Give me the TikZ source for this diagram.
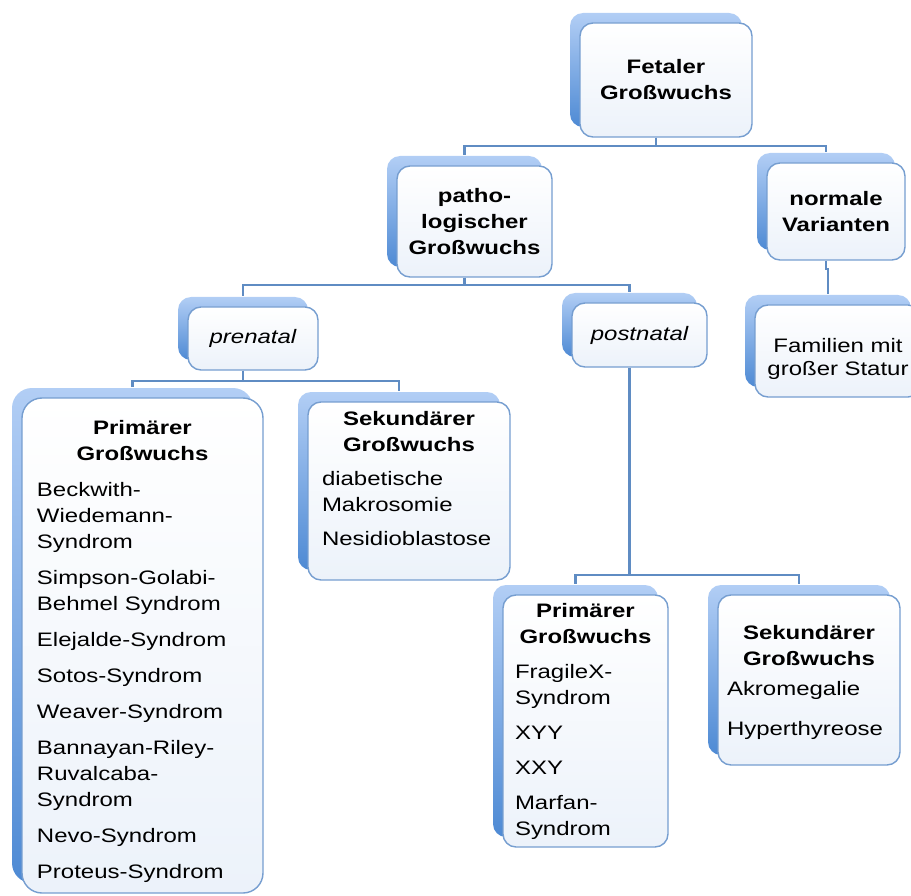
\documentclass[tikz,border=0pt]{standalone}
\usepackage{fontspec}
\setmainfont{Liberation Sans}[FakeStretch=1.23]
\usetikzlibrary{calc}
\definecolor{linkblue}{RGB}{95,140,195}
\definecolor{boxedge}{RGB}{118,158,208}
\definecolor{shadelight}{RGB}{178,206,245}
\definecolor{shadedark}{RGB}{78,138,212}
\definecolor{boxfoot}{RGB}{236,242,250}

\begin{document}
\begin{tikzpicture}[x=1pt,y=-1pt,
        font=\fontsize{19.5}{26}\selectfont,
        gbox/.style={draw=boxedge,line width=1.4pt,rounded corners=13pt,
            top color=white,bottom color=boxfoot,inner sep=0pt,
            preaction={draw=none,top color=shadelight,bottom color=shadedark,
                transform canvas={shift={(-10pt,10pt)}}}},
        headbox/.style={gbox,align=center,font=\fontsize{19.5}{26}\selectfont\bfseries},
        listbox/.style={gbox,text width=#1},
        link/.style={draw=linkblue,line width=2.2pt}]
    \useasboundingbox (0,0) rectangle (911,896);

    % upper levels
    \node[headbox,minimum width=172,minimum height=114] (fetal) at (666,80) {Fetaler\\Großwuchs};
    \node[headbox,minimum width=155,minimum height=111] (patho) at (474.5,221.5) {patho-\\logischer\\Großwuchs};
    \node[headbox,minimum width=138,minimum height=97] (normal) at (836,211.5) {normale\\Varianten};
    \node[gbox,minimum width=130,minimum height=63,font=\fontsize{19.5}{26}\selectfont\itshape] (prenat) at (253,338.5) {prenatal};
    \node[gbox,minimum width=135,minimum height=64,font=\fontsize{19.5}{26}\selectfont\itshape] (postnat) at (639.5,335) {postnatal};
    \node[listbox=150,align=center,minimum width=166,minimum height=92,text height=31pt] (famil) at (838,351) {Familien mit\\[-3pt]großer Statur};

    % lists
    \node[listbox=211,minimum width=241,minimum height=495,rounded corners=20pt,text height=26pt] (prim1) at (142.5,645.5)
        {{\centering\bfseries Primärer\\Großwuchs\par}\vspace{10pt}\raggedright
        Beckwith-\\Wiedemann-\\Syndrom\\[10pt]
        Simpson-Golabi-\\Behmel Syndrom\\[10pt]
        Elejalde-Syndrom\\[10pt]
        Sotos-Syndrom\\[10pt]
        Weaver-Syndrom\\[10pt]
        Bannayan-Riley-\\Ruvalcaba-\\Syndrom\\[10pt]
        Nevo-Syndrom\\[10pt]
        Proteus-Syndrom};
    \node[listbox=174,minimum width=202,minimum height=178,text depth=146pt] (sek1) at (409,491)
        {{\centering\bfseries Sekundärer\\Großwuchs\par}\vspace{8pt}\raggedright
        diabetische\\Makrosomie\\[8pt]
        Nesidioblastose};
    \node[listbox=141,minimum width=165,minimum height=252] (prim2) at (585.5,721)
        {{\centering\bfseries Primärer\\Großwuchs\par}\vspace{9pt}\raggedright
        FragileX-\\Syndrom\\[9pt]
        XYY\\[9pt]
        XXY\\[9pt]
        Marfan-\\Syndrom};
    \node[listbox=164,minimum width=182,minimum height=170,text height=20pt] (sek2) at (809,680)
        {{\centering\bfseries Sekundärer\\Großwuchs\par}\vspace{4pt}\raggedright
        Akromegalie\\[14pt]
        Hyperthyreose};

    % tree lines
    \foreach \from/\to/\drop in {fetal/patho/8,fetal/normal/8,patho/prenat/7,patho/postnat/7,
            normal/famil/8,prenat/prim1/10,prenat/sek1/10,postnat/prim2/207,postnat/sek2/207}
        \draw[link] ([xshift=-10pt]\from.south) -- ++(0,\drop) -| ([xshift=-10pt,yshift=10pt]\to.north);
\end{tikzpicture}
\end{document}
